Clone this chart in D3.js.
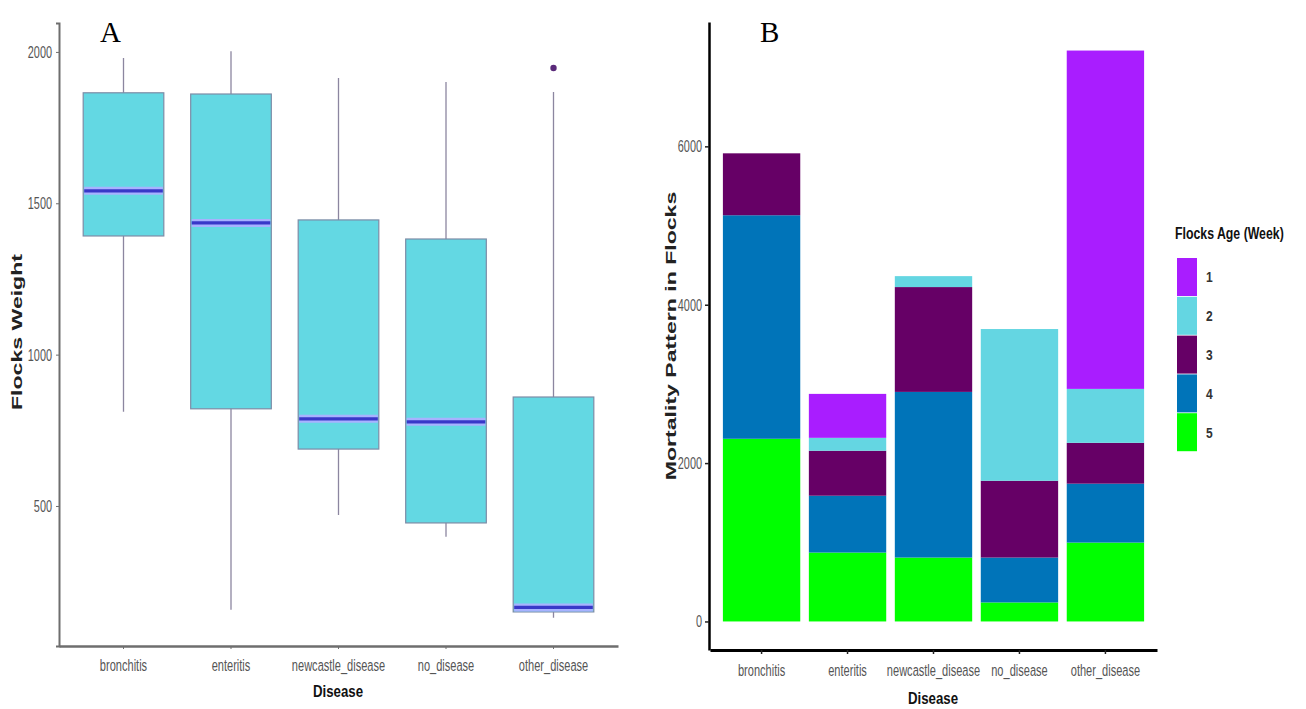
<!DOCTYPE html>
<html>
<head>
<meta charset="utf-8">
<script src="https://cdn.jsdelivr.net/npm/d3@7"></script>
<style>
  body { margin: 0; background: #fff; }
</style>
</head>
<body>
<div id="chart"></div>
<script>
// categories
const diseases = ["bronchitis", "enteritis", "newcastle_disease", "no_disease", "other_disease"];

// panel A: box plot stats of flock weight
const whiskerLow  = [811, 157, 470, 398, 131];
const q1          = [1392, 821, 688, 444, 150];
const median      = [1541, 1435, 788, 778, 165];
const q3          = [1865, 1861, 1445, 1382, 860];
const whiskerHigh = [1980, 2002, 1914, 1901, 1868];
const outlierDisease = ["other_disease"];
const outlierValue   = [1947];

// panel B: mortality by flock age (week)
const ageGroups = ["1", "2", "3", "4", "5"];
const age1 = [0, 555, 0, 0, 4273];
const age2 = [0, 163, 138, 1916, 681];
const age3 = [782, 568, 1324, 970, 516];
const age4 = [2823, 718, 2092, 567, 744];
const age5 = [2307, 870, 807, 240, 996];
const ageColors = ["#a91dff", "#64d6e2", "#660066", "#0074b9", "#00ff00"];

const ticksA = [500, 1000, 1500, 2000];
const ticksB = [0, 2000, 4000, 6000];

const sans = "'Liberation Sans', Arial, sans-serif";
const serif = "'Liberation Serif', 'Times New Roman', serif";

const svg = d3.select("#chart").append("svg")
    .attr("width", 1306)
    .attr("height", 709)
    .style("font-family", sans);

// squeeze / stretch text along its own direction like the reference
function fit(sel, f) {
    sel.each(function () {
        const t = d3.select(this);
        const x = +t.attr("x") || 0;
        const tr = t.attr("transform") || "";
        t.attr("transform", `${tr} translate(${x},0) scale(${f},1) translate(${-x},0)`);
    });
}

// ---------- Panel A ----------
const boxes = diseases.map((d, i) => ({
    disease: d, low: whiskerLow[i], q1: q1[i], med: median[i], q3: q3[i], high: whiskerHigh[i]
}));
const allA = whiskerLow.concat(whiskerHigh, outlierValue);
const minA = d3.min(allA), maxA = d3.max(allA);
const padA = (maxA - minA) * 0.05;

const xA = d3.scaleBand().domain(diseases).range([59, 618]).paddingInner(0.25).paddingOuter(0.225);
const yA = d3.scaleLinear().domain([minA - padA, maxA + padA]).range([646, 23]);

const gA = svg.append("g");

// whiskers
gA.selectAll(".whisker").data(boxes).join("line")
    .attr("x1", d => xA(d.disease) + xA.bandwidth() / 2)
    .attr("x2", d => xA(d.disease) + xA.bandwidth() / 2)
    .attr("y1", d => yA(d.low))
    .attr("y2", d => yA(d.high))
    .attr("stroke", "#8c86a0")
    .attr("stroke-width", 1.3);

// boxes
gA.selectAll(".box").data(boxes).join("rect")
    .attr("x", d => xA(d.disease))
    .attr("width", xA.bandwidth())
    .attr("y", d => yA(d.q3))
    .attr("height", d => yA(d.q1) - yA(d.q3))
    .attr("fill", "#63d8e3")
    .attr("stroke", "#7d8ca6")
    .attr("stroke-width", 1.2);

// median lines with soft glow
gA.selectAll(".medGlow").data(boxes).join("line")
    .attr("x1", d => xA(d.disease) + 1)
    .attr("x2", d => xA(d.disease) + xA.bandwidth() - 1)
    .attr("y1", d => yA(d.med))
    .attr("y2", d => yA(d.med))
    .attr("stroke", "#a7b2ff")
    .attr("stroke-width", 8);
gA.selectAll(".med").data(boxes).join("line")
    .attr("x1", d => xA(d.disease) + 1)
    .attr("x2", d => xA(d.disease) + xA.bandwidth() - 1)
    .attr("y1", d => yA(d.med))
    .attr("y2", d => yA(d.med))
    .attr("stroke", "#3838c8")
    .attr("stroke-width", 3.2);

// outliers
gA.selectAll(".outlier").data(outlierValue).join("circle")
    .attr("cx", (d, i) => xA(outlierDisease[i]) + xA.bandwidth() / 2)
    .attr("cy", d => yA(d))
    .attr("r", 3.2)
    .attr("fill", "#5a2a7a");

// axes A
const axA = gA.append("g")
    .attr("transform", "translate(59,0)")
    .call(d3.axisLeft(yA).tickValues(ticksA).tickFormat(d3.format("d")).tickSize(3).tickPadding(4));
axA.select(".domain").attr("stroke", "#6e6e6e").attr("stroke-width", 2);
axA.selectAll(".tick line").attr("stroke", "#6e6e6e");
axA.selectAll("text").attr("font-size", 17).attr("font-family", sans).attr("fill", "#555").call(fit, 0.64);

const axAx = gA.append("g")
    .attr("transform", "translate(0,646)")
    .call(d3.axisBottom(xA).tickSize(3).tickPadding(10).tickSizeOuter(0));
axAx.select(".domain").attr("stroke", "#6e6e6e").attr("stroke-width", 2.6);
axAx.selectAll(".tick line").attr("stroke", "#6e6e6e");
axAx.selectAll("text").attr("font-size", 17).attr("font-family", sans).attr("fill", "#555").call(fit, 0.65);

gA.append("text")
    .attr("x", 338).attr("y", 697)
    .attr("text-anchor", "middle")
    .attr("font-size", 17).attr("font-weight", "bold").attr("fill", "#111")
    .text("Disease").call(fit, 0.78);

gA.append("text")
    .attr("transform", "translate(22,332) rotate(-90)")
    .attr("text-anchor", "middle")
    .attr("font-size", 14).attr("font-weight", "bold").attr("fill", "#222")
    .text("Flocks Weight").call(fit, 1.65);

gA.append("text")
    .attr("x", 100).attr("y", 42)
    .style("font-family", serif)
    .attr("font-size", 29).attr("fill", "#000")
    .text("A");

// ---------- Panel B ----------
const rows = diseases.map((d, i) => ({
    disease: d, "1": age1[i], "2": age2[i], "3": age3[i], "4": age4[i], "5": age5[i]
}));
const stackKeys = ["5", "4", "3", "2", "1"];
const series = d3.stack().keys(stackKeys)(rows);
const maxB = d3.max(rows, r => ageGroups.reduce((s, k) => s + r[k], 0));
const padB = maxB * 0.05;

const xB = d3.scaleBand().domain(diseases).range([710, 1157]).paddingInner(0.1).paddingOuter(0.15);
const yB = d3.scaleLinear().domain([-padB, maxB + padB]).range([650, 22]);
const color = d3.scaleOrdinal().domain(ageGroups).range(ageColors);

const gB = svg.append("g");
gB.selectAll(".layer").data(series).join("g")
    .attr("fill", d => color(d.key))
    .selectAll("rect").data(d => d).join("rect")
    .attr("x", d => xB(d.data.disease))
    .attr("width", xB.bandwidth())
    .attr("y", d => yB(d[1]))
    .attr("height", d => yB(d[0]) - yB(d[1]));

const axB = gB.append("g")
    .attr("transform", "translate(709,0)")
    .call(d3.axisLeft(yB).tickValues(ticksB).tickFormat(d3.format("d")).tickSize(4).tickPadding(3).tickSizeOuter(0));
axB.select(".domain").attr("stroke", "#000").attr("stroke-width", 2.5);
axB.selectAll(".tick line").attr("stroke", "#222").attr("stroke-width", 1.5);
axB.selectAll("text").attr("font-size", 17).attr("font-family", sans).attr("fill", "#555").call(fit, 0.64);

const axBx = gB.append("g")
    .attr("transform", "translate(0,650)")
    .call(d3.axisBottom(xB).tickSize(4).tickPadding(10).tickSizeOuter(0));
axBx.select(".domain").attr("stroke", "#000").attr("stroke-width", 3);
axBx.selectAll(".tick line").attr("stroke", "#222").attr("stroke-width", 1.5);
axBx.selectAll("text").attr("font-size", 17).attr("font-family", sans).attr("fill", "#555").call(fit, 0.65);

gB.append("text")
    .attr("x", 933).attr("y", 704)
    .attr("text-anchor", "middle")
    .attr("font-size", 17).attr("font-weight", "bold").attr("fill", "#111")
    .text("Disease").call(fit, 0.78);

gB.append("text")
    .attr("transform", "translate(676,336) rotate(-90)")
    .attr("text-anchor", "middle")
    .attr("font-size", 14).attr("font-weight", "bold").attr("fill", "#222")
    .text("Mortality Pattern in Flocks").call(fit, 1.65);

gB.append("text")
    .attr("x", 760).attr("y", 42)
    .style("font-family", serif)
    .attr("font-size", 29).attr("fill", "#000")
    .text("B");

// legend
const legend = svg.append("g").attr("transform", "translate(1177,258)");
legend.append("text")
    .attr("x", -2).attr("y", -19)
    .attr("font-size", 16).attr("font-weight", "bold").attr("fill", "#111")
    .text("Flocks Age (Week)").call(fit, 0.77);
const keyH = 38.8;
const items = legend.selectAll(".item").data(ageGroups).join("g")
    .attr("transform", (d, i) => `translate(0,${i * keyH})`);
items.append("rect")
    .attr("width", 20).attr("height", keyH - 0.8)
    .attr("fill", d => color(d));
items.append("text")
    .attr("x", 29).attr("y", keyH / 2 + 5)
    .attr("font-size", 15).attr("font-weight", "bold").attr("fill", "#333")
    .text(d => d).call(fit, 0.8);
</script>
</body>
</html>
